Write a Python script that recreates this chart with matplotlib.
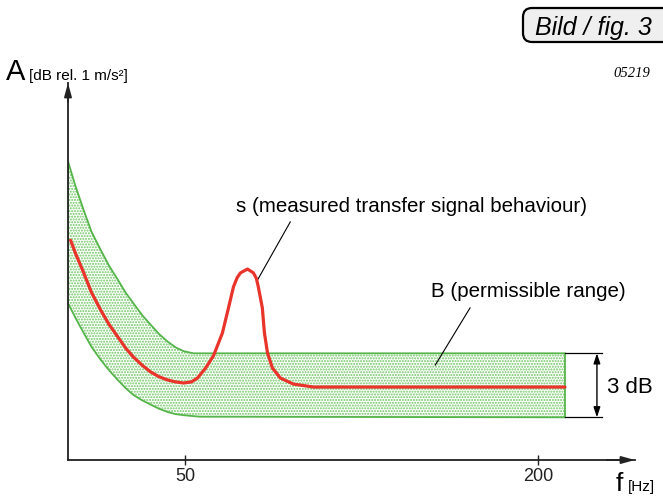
import matplotlib
matplotlib.use("Agg")
import matplotlib.pyplot as plt
from matplotlib.patches import FancyBboxPatch
from matplotlib.transforms import IdentityTransform

plt.rcParams["font.family"] = ["Liberation Sans", "DejaVu Sans"]
plt.rcParams["hatch.linewidth"] = 1.0

# frequency [Hz] / level [dB]
upper_hz = [0, 3, 6.7, 10, 13.9, 17.5, 21.2, 24.5, 27.8, 31.5, 35.1, 38.8, 42.4, 45.8, 49.2, 53.4, 211.5]
upper_db = [14.0, 12.9, 11.7, 10.7, 9.85, 9.1, 8.45, 7.85, 7.35, 6.8, 6.35, 5.9, 5.55, 5.28, 5.1, 5.0, 5.0]
lower_hz = [0, 3, 6.7, 10, 13.9, 17.5, 21.2, 24.5, 27.8, 31.5, 35.1, 38.8, 42.4, 45.8, 49.2, 56, 211.5]
lower_db = [7.35, 6.7, 5.95, 5.3, 4.7, 4.2, 3.75, 3.37, 3.05, 2.8, 2.6, 2.4, 2.25, 2.15, 2.1, 2.03, 2.0]

signal_hz = [1.1, 3.5, 6.7, 10, 13.9, 17.5, 21.2, 24.5, 27.8, 31.5, 35.1, 38.8, 42.4, 45.8, 49.2,
             52.5, 55.1, 58.5, 61.9, 65.7, 68.3, 70.4, 72.0, 73.4, 76.4, 78.9, 80.2, 81.0, 82.7,
             83.6, 84.9, 87.0, 90.4, 95.9, 104.4, 211.5]
signal_db = [10.3, 9.6, 8.77, 7.85, 7.03, 6.35, 5.77, 5.25, 4.83, 4.45, 4.13, 3.9, 3.75, 3.66, 3.61,
             3.66, 3.84, 4.3, 4.88, 5.95, 7.13, 8.11, 8.55, 8.77, 8.95, 8.77, 8.5, 8.11, 7.13,
             5.95, 5.02, 4.31, 3.84, 3.56, 3.42, 3.42]

x_ticks = [50, 200]
x_tick_labels = ["50", "200"]

band_top, band_bottom, band_end = 5.0, 2.0, 211.5

GREEN = "#55b44a"
DOTS = "#6cc660"
RED = "#e8342b"
AXIS = "#222222"

fig = plt.figure(figsize=(6.63, 4.97), dpi=100)
ax = fig.add_axes([68 / 663, 37 / 497, 567 / 663, 377 / 497])
ax.set_xlim(0, 241.3)
ax.set_ylim(0, 17.67)

# permissible range B: dotted band with green outline
band_x = upper_hz + lower_hz[::-1]
band_y = upper_db + lower_db[::-1]
ax.fill(band_x, band_y, facecolor="none", edgecolor=DOTS, hatch="......", lw=0, zorder=1)
ax.fill(band_x, band_y, facecolor="none", edgecolor=GREEN, lw=1.3, zorder=2)

# measured signal s
ax.plot(signal_hz, signal_db, color=RED, lw=2.3, solid_capstyle="round", solid_joinstyle="round", zorder=3)

# axes with arrow heads
for side in ["top", "right"]:
    ax.spines[side].set_visible(False)
for side in ["left", "bottom"]:
    ax.spines[side].set_color(AXIS)
    ax.spines[side].set_linewidth(1.3)
arrow = dict(arrowstyle="-|>,head_length=0.8,head_width=0.22", color=AXIS, lw=1.3, shrinkA=0, shrinkB=0)
ax.annotate("", xy=(1, 0), xytext=(0.95, 0), xycoords="axes fraction", arrowprops=arrow, annotation_clip=False)
ax.annotate("", xy=(0, 1), xytext=(0, 0.95), xycoords="axes fraction", arrowprops=arrow, annotation_clip=False)

ax.set_yticks([])
ax.set_xticks(x_ticks)
ax.set_xticklabels(x_tick_labels, fontsize=13, color="#222222")
ax.tick_params(axis="x", direction="inout", length=7, width=1, pad=2, color=AXIS)

# labels and leader lines
ax.text(146.1, 11.63, "s (measured transfer signal behaviour)", ha="center", va="baseline", fontsize=14.8)
ax.plot([94.6, 80.2], [11.16, 8.35], color="black", lw=0.8)
ax.text(195.8, 7.64, "B (permissible range)", ha="center", va="baseline", fontsize=14.8)
ax.plot([171.1, 156.3], [7.13, 4.45], color="black", lw=0.8)

# 3 dB dimension
dim_end = 227.2
ax.plot([band_end, dim_end], [band_top, band_top], color="black", lw=0.9, clip_on=False)
ax.plot([band_end, dim_end], [band_bottom, band_bottom], color="black", lw=0.9, clip_on=False)
ax.annotate("", xy=(225.1, band_top), xytext=(225.1, band_bottom),
            arrowprops=dict(arrowstyle="<|-|>,head_length=0.6,head_width=0.2", color="black", lw=1.0,
                            shrinkA=0, shrinkB=0))
ax.text(229.4, 3.14, "3 dB", ha="left", va="baseline", fontsize=16)

# axis titles
fig.text(6 / 663, 1 - 80 / 497, "A", fontsize=21, va="baseline")
fig.text(29 / 663, 1 - 80 / 497, "[dB rel. 1 m/s²]", fontsize=11, va="baseline")
fig.text(616 / 663, 1 - 491 / 497, "f", fontsize=19, va="baseline")
fig.text(628 / 663, 1 - 491 / 497, "[Hz]", fontsize=11, va="baseline")

# figure tag
fig.patches.append(FancyBboxPatch((523, 497 - 42), 200, 34, boxstyle="round,pad=0,rounding_size=9",
                                  transform=IdentityTransform(), facecolor="#efefef",
                                  edgecolor="black", lw=1.6))
fig.text(535 / 663, 1 - 35 / 497, "Bild / fig. 3", fontsize=18, style="italic", va="baseline")
fig.text(613 / 663, 1 - 77 / 497, "05219", fontsize=10.5, style="italic",
         fontfamily=["Liberation Serif", "DejaVu Serif"], va="baseline")

fig.savefig("out.png", dpi=100)
